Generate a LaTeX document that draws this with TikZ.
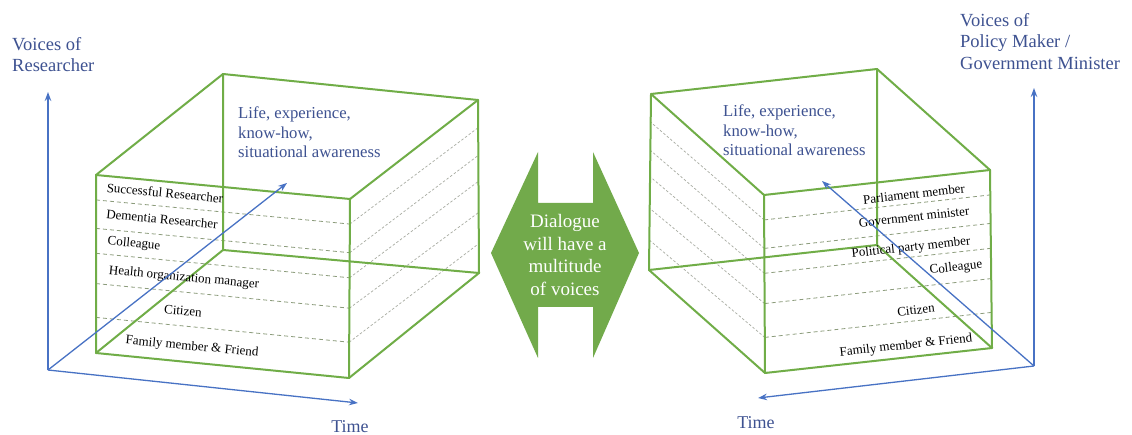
\documentclass[tikz,border=0pt]{standalone}
\usepackage{fontspec}
\setmainfont{Liberation Serif}
\usetikzlibrary{arrows.meta,calc}

\definecolor{cubegreen}{RGB}{112,173,71}
\definecolor{arrowgreen}{RGB}{114,170,75}
\definecolor{axisblue}{RGB}{72,114,196}
\definecolor{textblue}{RGB}{62,82,145}
\definecolor{bandgray}{RGB}{140,156,124}
\definecolor{sidegray}{RGB}{168,172,162}

\begin{document}
\begin{tikzpicture}[x=1pt,y=-1pt,
  edge/.style={cubegreen, line width=2pt, line join=round, line cap=round},
  band/.style={bandgray, line width=0.8pt, dash pattern=on 4pt off 3pt},
  sideband/.style={sidegray, line width=0.7pt, dash pattern=on 2.5pt off 2pt},
  axis/.style={axisblue, line width=1.3pt, -{Stealth[length=9pt,width=6.5pt]}},
  role/.style={font=\fontsize{13}{15}\selectfont, inner sep=0pt},
  heading/.style={textblue, font=\fontsize{18.5}{21.5}\selectfont, align=left, inner sep=0pt, anchor=north west},
  boxtext/.style={textblue, font=\fontsize{16.7}{19.5}\selectfont, align=left, inner sep=0pt, anchor=north west},
  timelabel/.style={textblue, font=\fontsize{18}{21}\selectfont, inner sep=0pt},
  arrowtext/.style={white, font=\fontsize{19}{22.5}\selectfont, align=center, inner sep=0pt}
]
\useasboundingbox (0,0) rectangle (1132,435);
\fill[white] (0,0) rectangle (1132,435);

% ---------- researcher cube (left) ----------
\coordinate (la) at (96,175);  \coordinate (lb) at (350,199);
\coordinate (lc) at (349,378); \coordinate (ld) at (96,353);
\coordinate (le) at (223,74);  \coordinate (lf) at (478,100);
\coordinate (lg) at (479,273); \coordinate (lh) at (223,250);

\foreach \s/\u in {0.14/0.16,0.30/0.32,0.44/0.47,0.61/0.65,0.80/0.83}{
  \draw[band] ($(la)!\s!(ld)$) -- ($(lb)!\s!(lc)$);
  \draw[sideband] ($(lb)!\s!(lc)$) -- ($(lf)!\u!(lg)$);
}
\draw[edge] (la) -- (lb) -- (lc) -- (ld) -- cycle;
\draw[edge] (le) -- (lf) -- (lg) -- (lh) -- cycle;
\draw[edge] (la) -- (le) (lb) -- (lf) (lc) -- (lg) (ld) -- (lh);

\node[role, rotate=-5.4] (r1) at (165,193) {Successful Researcher};
\node[role, rotate=-5.4] (r2) at (162,219) {Dementia Researcher};
\node[role, rotate=-5.4] (r3) at (134,244) {Colleague};
\node[role, rotate=-5.4] (r4) at (184,278) {Health organization manager};
\node[role, rotate=-5.4] (r5) at (183,311) {Citizen};
\node[role, rotate=-5.4] (r6) at (192,347) {Family member \& Friend};

\node[boxtext] (lifeL) at (238,107) {Life, experience,\\know-how,\\situational awareness};

% researcher axes
\coordinate (o1) at (48,370);
\coordinate (up1) at (48,92);
\coordinate (time1) at (358,403);
\coordinate (depth1) at (287,183);
\draw[axis] (o1) -- (up1);
\draw[axis] (o1) -- (time1);
\draw[axis] (o1) -- (depth1);
\node[heading] (voicesL) at (12,37) {Voices of\\Researcher};
\node[timelabel] (timeL) at (350,427) {Time};

% ---------- dialogue double arrow ----------
\fill[arrowgreen] (491,253) -- (538,152) -- (538,203) -- (593,203) -- (593,152)
  -- (639,253) -- (593,358) -- (593,307) -- (538,307) -- (538,358) -- cycle;
\node[arrowtext] (dialogue) at (565,255) {Dialogue\\will have a\\multitude\\of voices};

% ---------- policy maker cube (right) ----------
\coordinate (ra) at (764,195); \coordinate (rb) at (990,170);
\coordinate (rc) at (992,348); \coordinate (rd) at (765,373);
\coordinate (re) at (651,94);  \coordinate (rf) at (877,69);
\coordinate (rg) at (877,245); \coordinate (rh) at (649,270);

\foreach \s/\u in {0.14/0.16,0.30/0.32,0.44/0.47,0.61/0.65,0.80/0.83}{
  \draw[band] ($(ra)!\s!(rd)$) -- ($(rb)!\s!(rc)$);
  \draw[sideband] ($(ra)!\s!(rd)$) -- ($(re)!\u!(rh)$);
}
\draw[edge] (ra) -- (rb) -- (rc) -- (rd) -- cycle;
\draw[edge] (re) -- (rf) -- (rg) -- (rh) -- cycle;
\draw[edge] (ra) -- (re) (rb) -- (rf) (rc) -- (rg) (rd) -- (rh);

\node[role, rotate=6.3] (p1) at (914,194) {Parliament member};
\node[role, rotate=6.3] (p2) at (914,217) {Government minister};
\node[role, rotate=6.3] (p3) at (911,248) {Political party member};
\node[role, rotate=6.3] (p4) at (956,268) {Colleague};
\node[role, rotate=6.3] (p5) at (916,310) {Citizen};
\node[role, rotate=6.3] (p6) at (906,346) {Family member \& Friend};

\node[boxtext] (lifeR) at (723,105) {Life, experience,\\know-how,\\situational awareness};

% policy maker axes
\coordinate (o2) at (1034,366);
\coordinate (up2) at (1034,88);
\coordinate (time2) at (758,398);
\coordinate (depth2) at (822,181);
\draw[axis] (o2) -- (up2);
\draw[axis] (o2) -- (time2);
\draw[axis] (o2) -- (depth2);
\node[heading] (voicesR) at (960,13) {Voices of\\Policy Maker /\\Government Minister};
\node[timelabel] (timeR) at (756,423) {Time};
\end{tikzpicture}
\end{document}
